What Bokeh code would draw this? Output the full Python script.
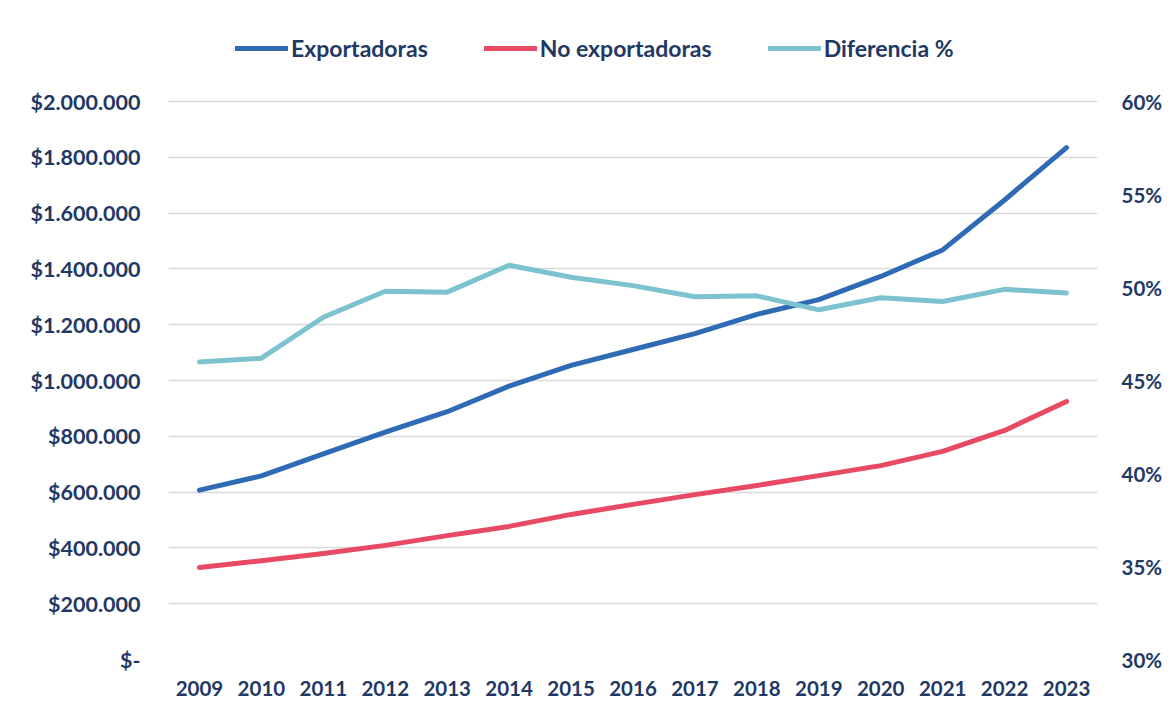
from bokeh.plotting import figure
from bokeh.models import (FactorRange, Range1d, LinearAxis, FixedTicker, Legend, LegendItem)
from bokeh.embed import file_html
from bokeh.resources import INLINE

years = [str(y) for y in range(2009, 2024)]
exportadoras = [607000, 658000, 737000, 815000, 888000, 980000, 1054000, 1111000,
                1168000, 1237000, 1290000, 1373000, 1468000, 1647000, 1835000]
no_exportadoras = [330000, 354000, 380000, 409000, 444000, 477000, 520000, 556000,
                   591000, 624000, 659000, 695000, 746000, 821000, 925000]
diferencia = [46.0, 46.2, 48.4, 49.8, 49.75, 51.2, 50.55, 50.1, 49.5, 49.55,
              48.8, 49.45, 49.25, 49.9, 49.7]

left_ticks = list(range(0, 2000001, 200000))
left_labels = ["$-"] + ["$" + f"{v:,}".replace(",", ".") for v in left_ticks[1:]]
right_ticks = [30, 35, 40, 45, 50, 55, 60]
right_labels = [f"{v}%" for v in right_ticks]

TEXT = "#1F3864"
FONT = "Lato"
C_EXP = "#2F6BB5"
C_NO = "#E84A63"
C_DIF = "#7CC2CF"

# the frame extends above the top gridline so the legend can sit inside it
AXIS_PX = 558          # pixels between bottom and top gridline
FRAME_H = 639          # frame height in pixels
ext = FRAME_H / AXIS_PX

p = figure(x_range=FactorRange(*years, range_padding=0),
           y_range=Range1d(0, 2000000 * ext),
           frame_width=929, frame_height=FRAME_H,
           min_border_left=168, min_border_right=72, min_border_top=20, min_border_bottom=56,
           output_backend="svg", toolbar_location=None, background_fill_color="white",
           border_fill_color="white", outline_line_color=None)
p.extra_y_ranges = {"pct": Range1d(30, 30 + 30 * ext)}

r1 = p.line(years, exportadoras, line_color=C_EXP, line_width=5, line_cap="round", line_join="round")
r2 = p.line(years, no_exportadoras, line_color=C_NO, line_width=5, line_cap="round", line_join="round")
r3 = p.line(years, diferencia, y_range_name="pct", line_color=C_DIF, line_width=5,
            line_cap="round", line_join="round")

ya = p.yaxis[0]
ya.ticker = FixedTicker(ticks=left_ticks)
ya.major_label_overrides = {t: l for t, l in zip(left_ticks, left_labels)}
ra = LinearAxis(y_range_name="pct", ticker=FixedTicker(ticks=right_ticks))
ra.major_label_overrides = {t: l for t, l in zip(right_ticks, right_labels)}
p.add_layout(ra, "right")

for ax in [ya, ra, p.xaxis[0]]:
    ax.axis_line_color = None
    ax.major_tick_line_color = None
    ax.minor_tick_line_color = None
    ax.major_label_text_font = FONT
    ax.major_label_text_font_style = "bold"
    ax.major_label_text_font_size = "20.5px"
    ax.major_label_text_color = TEXT
ya.major_label_text_font_size = "21.5px"
ya.major_label_standoff = 22
ra.major_label_standoff = 18
p.xaxis[0].major_label_standoff = 15

p.xgrid.grid_line_color = None
p.ygrid.grid_line_color = "#D9D9D9"
p.ygrid.grid_line_width = 1.5

legend = Legend(items=[LegendItem(label="Exportadoras", renderers=[r1]),
                       LegendItem(label="No exportadoras", renderers=[r2]),
                       LegendItem(label="Diferencia %", renderers=[r3])],
                orientation="horizontal", location=(67, 597),
                glyph_width=53, glyph_height=20, label_standoff=3, spacing=56,
                padding=0, margin=0, border_line_color=None, background_fill_alpha=0,
                label_text_font=FONT, label_text_font_style="bold", label_text_font_size="23px",
                label_text_color=TEXT)
p.add_layout(legend, "center")

open("out.html", "w").write(file_html(p, INLINE))
